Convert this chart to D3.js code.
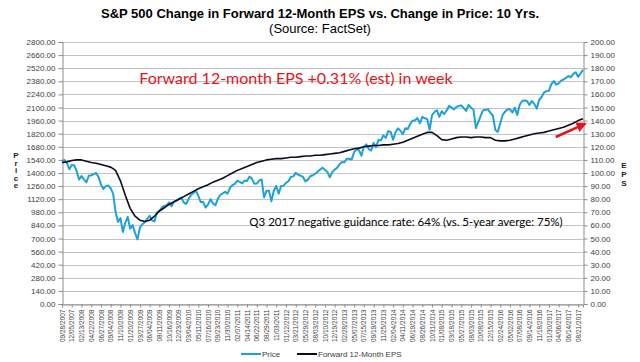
<!DOCTYPE html>
<html><head><meta charset="utf-8">
<script src="https://cdn.jsdelivr.net/npm/d3@7"></script>
<style>
html,body{margin:0;padding:0;background:#fff;}
svg{display:block;}
</style></head>
<body>
<svg id="chart" width="640" height="362"></svg>
<script>
// ---------- DATA ----------
const dateLabels = ["09/28/2007","12/05/2007","02/13/2008","04/22/2008","06/27/2008","09/04/2008","11/10/2008","01/20/2009","03/27/2009","06/04/2009","08/11/2009","10/16/2009","12/23/2009","03/04/2010","05/11/2010","07/16/2010","09/23/2010","11/30/2010","02/07/2011","04/14/2011","06/22/2011","08/29/2011","11/03/2011","01/12/2012","03/21/2012","05/29/2012","08/03/2012","10/10/2012","12/19/2012","02/28/2013","05/07/2013","07/15/2013","09/19/2013","11/25/2013","02/04/2014","04/11/2014","06/19/2014","08/26/2014","10/31/2014","01/08/2015","03/18/2015","05/27/2015","08/03/2015","10/08/2015","12/15/2015","02/24/2016","05/02/2016","07/08/2016","09/14/2016","11/18/2016","01/30/2017","04/06/2017","06/14/2017","08/21/2017"];

// S&P 500 price, one value every quarter label interval (left axis)
const priceValues = [
1527,1539,1509,1440, 1485,1484,1420,1330, 1367,1331,1300,1370, 1376,1388,1400,1358,
1278,1230,1260,1267, 1236,1180,985,877, 919,770,868,931, 805,845,760,690,
816,852,873,909, 942,893,882,982, 994,1030,1049,1057, 1087,1045,1094,1104,
1120,1137,1085,1070, 1122,1165,1187,1212, 1155,1090,1089,1031, 1065,1120,1075,1055,
1124,1165,1182,1199, 1180,1242,1270,1283, 1319,1306,1290,1319, 1314,1361,1340,1286,
1287,1319,1331,1140, 1210,1209,1099,1210, 1261,1180,1261,1265, 1295,1312,1358,1364,
1402,1382,1371,1358, 1310,1329,1365,1376, 1391,1413,1437,1455, 1432,1411,1355,1409,
1436,1457,1494,1518, 1515,1553,1553,1545, 1625,1650,1643,1585, 1682,1706,1656,1640,
1722,1676,1754,1748, 1802,1775,1848,1838, 1755,1836,1877,1852, 1815,1878,1870,1924,
1959,1963,1987,1931, 2000,1985,1977,1862, 2018,2052,2071,2000, 2062,2030,2068,2117,
2099,2080,2107,2116, 2123,2094,2063,2127, 2098,2079,1880,1943, 2013,2071,2075,2080,
2043,2012,1859,1840, 1929,2022,2055,2082, 2081,2047,2099,2020, 2130,2169,2175,2169,
2126,2168,2139,2088, 2182,2212,2260,2275, 2280,2349,2383,2344, 2357,2388,2399,2416,
2437,2423,2460,2477, 2428,2465,2502];

// Forward 12-month EPS, one value every half label interval (right axis)
const epsValues = [108,108.5,109.5,110,110,109,108,107.5,106.5,105.5,104.5,102,94,83,73,67,64,63,64,67,71,73.5,76,78,80,82,84,86,88,89.5,91,93,94.5,96,98,100,102,103.5,105,106.5,108,109,110,110.5,111,111,111.5,112,112,112.5,113,113,113.5,113.5,114,114.5,115,115.5,116.5,117.5,118.5,119,120,120.5,121,121,121.5,121.5,122,122.5,123.5,125,126.5,128,129.5,131,131,128.5,125.5,125,126,127,127.5,127.5,127,127.5,127.5,127,127,125,124.5,124.5,125,126,127,128,129,130,130.5,131,132,133,134,135,136.5,138,140,141.5];

const priceTicks = [0,140,280,420,560,700,840,980,1120,1260,1400,1540,1680,1820,1960,2100,2240,2380,2520,2660,2800];
const epsTicks = [0,10,20,30,40,50,60,70,80,90,100,110,120,130,140,150,160,170,180,190,200];

const seriesNames = ["Price","Forward 12-Month EPS"];
const titleText = "S&P 500 Change in Forward 12-Month EPS vs. Change in Price: 10 Yrs.";
const subtitleText = "(Source: FactSet)";
const noteRed = "Forward 12-month EPS +0.31% (est) in week";
const noteBlack = "Q3 2017 negative guidance rate: 64% (vs. 5-year averge: 75%)";

// ---------- LAYOUT ----------
const M = {left:62, right:583, top:42, bottom:304};
const colors = {price:"#1da1dc", eps:"#0b0b1f", grid:"#c4c4c4", axis:"#8c8c8c", text:"#404040", red:"#e8141b"};
const svg = d3.select("#chart");

const priceStep = 0.25, epsStep = 0.5;
const x = d3.scaleLinear().domain([0, 53.5]).range([M.left, M.right]);
const yP = d3.scaleLinear().domain([0, 2800]).range([M.bottom, M.top]);
const yE = d3.scaleLinear().domain([0, 200]).range([M.bottom, M.top]);

// title
svg.append("text").attr("x",320).attr("y",18).attr("text-anchor","middle")
  .style("font-family","'Liberation Sans',Arial,sans-serif").style("font-weight","bold").style("font-size","13px")
  .attr("fill","#000").text(titleText);
svg.append("text").attr("x",320).attr("y",33).attr("text-anchor","middle")
  .style("font-family","'Liberation Sans',Arial,sans-serif").style("font-size","13px")
  .attr("fill","#000").text(subtitleText);

// gridlines
svg.append("g").selectAll("line").data(priceTicks).join("line")
  .attr("x1",M.left).attr("x2",M.right)
  .attr("y1",d=>Math.round(yP(d))+0.5).attr("y2",d=>Math.round(yP(d))+0.5)
  .attr("stroke",colors.grid).attr("stroke-width",1);

// left axis
const leftAxis = d3.axisLeft(yP).tickValues(priceTicks).tickFormat(d3.format(".2f")).tickSize(4).tickPadding(3);
const gL = svg.append("g").attr("transform",`translate(${M.left+0.5},0)`).call(leftAxis);
// right axis
const rightAxis = d3.axisRight(yE).tickValues(epsTicks).tickFormat(d3.format(".2f")).tickSize(4).tickPadding(3);
const gR = svg.append("g").attr("transform",`translate(${M.right+0.5},0)`).call(rightAxis);
// bottom axis
const bottomAxis = d3.axisBottom(x).tickValues(d3.range(dateLabels.length)).tickFormat(i=>dateLabels[i]).tickSize(3).tickPadding(2);
const gB = svg.append("g").attr("transform",`translate(0,${M.bottom+0.5})`).call(bottomAxis);
gB.selectAll("text").attr("transform","rotate(-90)").attr("text-anchor","end")
  .attr("x",-5).attr("y",0).attr("dy","0.32em");

[gL,gR,gB].forEach(g=>{
  g.select(".domain").attr("stroke",colors.axis);
  g.selectAll(".tick line").attr("stroke",colors.axis);
  g.selectAll("text").attr("fill",colors.text).style("font-family","'Liberation Sans',Arial,sans-serif");
});
gL.selectAll("text").style("font-size","8px");
gR.selectAll("text").style("font-size","8px");
gB.selectAll("text").style("font-size","6.5px");

// axis titles (stacked letters)
const ptitle = svg.append("text").style("font-family","'Liberation Sans',Arial,sans-serif").style("font-weight","bold")
  .style("font-size","8px").attr("fill","#222").attr("text-anchor","middle");
"Price".split("").forEach((c,i)=>ptitle.append("tspan").attr("x",16).attr("y",158+i*7.6).text(c));
const etitle = svg.append("text").style("font-family","'Liberation Sans',Arial,sans-serif").style("font-weight","bold")
  .style("font-size","8px").attr("fill","#222").attr("text-anchor","middle");
"EPS".split("").forEach((c,i)=>etitle.append("tspan").attr("x",624).attr("y",168+i*9).text(c));

// lines
const lineP = d3.line().x((d,i)=>x(i*priceStep)).y(d=>yP(d));
const lineE = d3.line().x((d,i)=>x(i*epsStep)).y(d=>yE(d));
svg.append("path").datum(priceValues).attr("d",lineP).attr("fill","none")
  .attr("stroke",colors.price).attr("stroke-width",2).attr("stroke-linejoin","round");
svg.append("path").datum(epsValues).attr("d",lineE).attr("fill","none")
  .attr("stroke",colors.eps).attr("stroke-width",1.6).attr("stroke-linejoin","round");

// annotations
svg.append("text").attr("x",296).attr("y",84).attr("text-anchor","middle")
  .style("font-family","Lato,'Open Sans',sans-serif").style("font-size","16px")
  .attr("fill",colors.red).text(noteRed);
svg.append("text").attr("x",406).attr("y",226).attr("text-anchor","middle")
  .style("font-family","Lato,'Open Sans',sans-serif").style("font-size","11.5px")
  .attr("fill","#000").text(noteBlack);

// red arrow
const defs = svg.append("defs");
defs.append("marker").attr("id","ah").attr("viewBox","0 0 10 10").attr("refX",8).attr("refY",5)
  .attr("markerWidth",4).attr("markerHeight",4).attr("orient","auto")
  .append("path").attr("d","M0,0L10,5L0,10z").attr("fill",colors.red);
svg.append("line").attr("x1",x(50.7)).attr("y1",yE(127.5)).attr("x2",x(53.7)).attr("y2",yE(137.5))
  .attr("stroke",colors.red).attr("stroke-width",2.6).attr("marker-end","url(#ah)");

// legend
const lg = svg.append("g").attr("transform","translate(0,354)");
const legendItems = [{name:seriesNames[0], color:colors.price, x:241},{name:seriesNames[1], color:colors.eps, x:297}];
legendItems.forEach(it=>{
  lg.append("line").attr("x1",it.x).attr("x2",it.x+20).attr("y1",0).attr("y2",0).attr("stroke",it.color).attr("stroke-width",2);
  lg.append("text").attr("x",it.x+21).attr("y",3).style("font-family","'Liberation Sans',Arial,sans-serif")
    .style("font-size","8px").attr("fill",colors.text).text(it.name);
});
</script>
</body></html>
